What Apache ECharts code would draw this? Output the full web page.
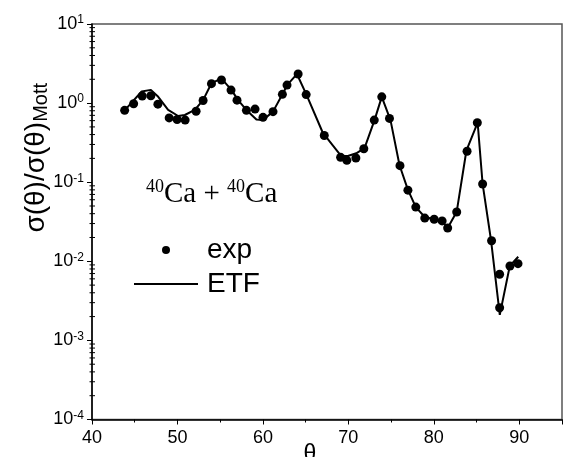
<!DOCTYPE html>
<html>
<head>
<meta charset="utf-8">
<script src="https://cdn.jsdelivr.net/npm/echarts@6/dist/echarts.min.js"></script>
<style>html,body{margin:0;padding:0;background:#fff;}#c{width:563px;height:457px;}</style>
</head>
<body>
<div id="c"></div>
<script>
// Experimental data (exp)
const thetaExp = [43.82, 44.87, 45.88, 46.89, 47.71, 49.03, 49.96, 50.90, 52.18, 53.00,
  53.98, 55.15, 56.27, 56.97, 58.07, 59.08, 60.01, 61.18, 62.28, 62.82,
  64.12, 65.06, 67.18, 69.09, 69.82, 70.88, 71.81, 73.03, 73.91, 74.81,
  76.04, 76.97, 77.89, 78.94, 80.04, 80.97, 81.62, 82.68, 83.89, 85.09,
  85.71, 86.76, 87.70, 87.70, 88.91, 89.85];
const sigmaExp = [0.81, 0.98, 1.23, 1.24, 0.97, 0.65, 0.62, 0.61, 0.79, 1.08,
  1.76, 1.96, 1.46, 1.09, 0.81, 0.84, 0.66, 0.78, 1.29, 1.69,
  2.33, 1.28, 0.389, 0.206, 0.189, 0.202, 0.265, 0.61, 1.20, 0.64,
  0.162, 0.0793, 0.0485, 0.0352, 0.0340, 0.0324, 0.0264, 0.042, 0.246, 0.565,
  0.095, 0.0182, 0.00686, 0.00259, 0.00873, 0.00933];
// ETF calculation
const thetaEtf = [43.82, 45.81, 46.89, 47.75, 48.91, 50.08, 50.86, 52.03, 53.00, 53.98,
  55.13, 56.32, 57.09, 58.07, 59.24, 60.01, 61.18, 62.35, 62.93, 63.98,
  65.08, 67.02, 69.17, 69.94, 70.92, 71.89, 73.06, 73.91, 74.93, 75.98,
  76.95, 77.89, 78.94, 80.04, 80.97, 81.62, 82.68, 83.81, 85.13, 85.71,
  86.69, 87.72, 88.89, 89.88];
const sigmaEtf = [0.81, 1.40, 1.47, 1.20, 0.82, 0.687, 0.707, 0.82, 1.09, 1.78,
  2.05, 1.47, 1.09, 0.82, 0.62, 0.61, 0.78, 1.33, 1.74, 2.33,
  1.29, 0.419, 0.214, 0.214, 0.232, 0.269, 0.61, 1.20, 0.61, 0.165,
  0.0813, 0.0485, 0.0363, 0.034, 0.0324, 0.0263, 0.0424, 0.25, 0.565, 0.095,
  0.0186, 0.0021, 0.00873, 0.0114];
// Axis settings
const xMin = 40, xMax = 95, xStep = 10;
const yMin = 1e-4, yMax = 10;
const seriesNames = ['exp', 'ETF'];

const yMinorTicks = [];
for (let e = -4; e < 1; e++) {
  for (let m = 2; m <= 9; m++) yMinorTicks.push([xMin, m * Math.pow(10, e)]);
}

const sans = 'Liberation Sans, Arial, sans-serif';
const serif = 'Liberation Serif, Times New Roman, serif';
const legendText = { fontSize: 28, lineHeight: 28, fontFamily: sans, color: '#000', padding: [0, 0, 0, 4] };

const chart = echarts.init(document.getElementById('c'));
chart.setOption({
  animation: false,
  backgroundColor: '#fff',
  grid: { left: 92, top: 24, right: 1, bottom: 37.5, outerBoundsMode: 'none', containLabel: false,
    show: true, borderColor: '#555', borderWidth: 1.5, backgroundColor: 'transparent' },
  legend: [
    {
      data: [{ name: seriesNames[0], icon: 'circle' }], orient: 'vertical', left: 162, top: 236, padding: 0,
      itemWidth: 64, itemHeight: 8, textStyle: legendText
    },
    {
      data: [{ name: seriesNames[1], icon: 'rect' }], orient: 'vertical', left: 134, top: 270, padding: 0,
      itemWidth: 64, itemHeight: 2, textStyle: legendText
    }
  ],
  graphic: [{
    type: 'text', left: 146, top: 178,
    style: {
      text: '{s|40}{m|Ca + }{s|40}{m|Ca}',
      rich: {
        s: { fontSize: 18, fontFamily: serif, fill: '#000', verticalAlign: 'top', lineHeight: 32 },
        m: { fontSize: 29, fontFamily: serif, fill: '#000', lineHeight: 32 }
      }
    }
  }],
  xAxis: {
    type: 'value', min: xMin, max: xMax, interval: xStep,
    name: 'θ', nameLocation: 'middle', nameGap: 24, nameMoveOverlap: false,
    nameTextStyle: { fontSize: 23, fontFamily: sans, color: '#000', padding: [0, 34, 0, 0] },
    axisLine: { show: true, lineStyle: { color: '#000', width: 1.5 } },
    axisTick: { show: true, length: 5, lineStyle: { color: '#000', width: 1 } },
    minorTick: { show: true, splitNumber: 2, length: 3, lineStyle: { color: '#000', width: 1 } },
    splitLine: { show: false },
    axisLabel: { fontSize: 18, fontFamily: sans, color: '#000', margin: 10, showMaxLabel: false }
  },
  yAxis: {
    type: 'log', logBase: 10, min: yMin, max: yMax,
    name: '{m|σ(θ)/σ(θ)}{s|Mott}', nameLocation: 'middle', nameGap: 41, nameMoveOverlap: false,
    nameTextStyle: {
      padding: [0, 0, 0, 128],
      rich: {
        m: { fontSize: 28, fontFamily: sans, color: '#000' },
        s: { fontSize: 20, fontFamily: sans, color: '#000', verticalAlign: 'bottom', padding: [10, 0, 0, 0] }
      }
    },
    axisLine: { show: true, lineStyle: { color: '#000', width: 1.5 } },
    axisTick: { show: true, length: 5, lineStyle: { color: '#000', width: 1 } },
    splitLine: { show: false },
    axisLabel: {
      margin: 8,
      formatter: v => '{b|10}{s|' + Math.round(Math.log10(v)) + '}',
      rich: {
        b: { fontSize: 18, fontFamily: sans, color: '#000', lineHeight: 20 },
        s: { fontSize: 12, fontFamily: sans, color: '#000', verticalAlign: 'top', lineHeight: 12 }
      }
    }
  },
  series: [
    {
      name: 'exp', type: 'scatter', symbol: 'circle', symbolSize: 9,
      itemStyle: { color: '#000', opacity: 1 },
      data: thetaExp.map((t, i) => [t, sigmaExp[i]]), z: 3
    },
    {
      name: 'ETF', type: 'line', symbol: 'none', smooth: false,
      lineStyle: { color: '#000', width: 2 }, itemStyle: { color: '#000' },
      data: thetaEtf.map((t, i) => [t, sigmaEtf[i]]), z: 2
    },
    {
      name: 'minor', type: 'custom', clip: false, silent: true,
      data: yMinorTicks,
      renderItem: (params, api) => {
        const p = api.coord([api.value(0), api.value(1)]);
        return { type: 'line', shape: { x1: p[0] - 2.5, y1: p[1], x2: p[0] + 3, y2: p[1] }, style: { stroke: '#000', lineWidth: 1 } };
      }
    }
  ]
});
</script>
</body>
</html>
